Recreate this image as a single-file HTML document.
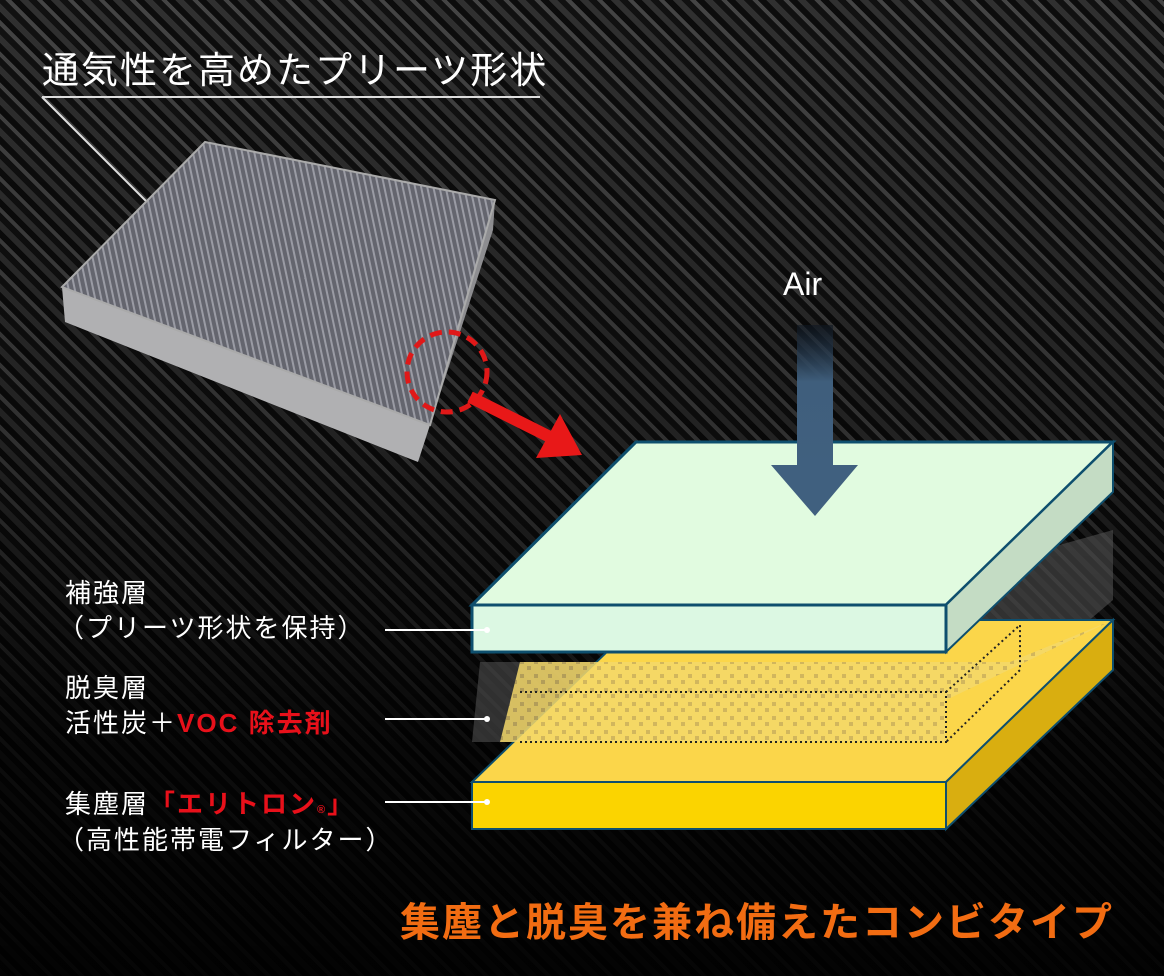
<!DOCTYPE html>
<html><head><meta charset="utf-8"><style>
html,body{margin:0;padding:0}
body{width:1164px;height:976px;overflow:hidden;position:relative;background:#0b0b0b;font-family:"Liberation Sans","Noto Sans CJK JP",sans-serif}
.bg{position:absolute;inset:0;
background:
linear-gradient(180deg,rgba(0,0,0,0) 0%,rgba(0,0,0,.3) 45%,rgba(0,0,0,.8) 75%,rgba(0,0,0,.92) 100%),
repeating-linear-gradient(45deg,#303030 0 6px,#111 6px 12px,#444 12px 16px,#0c0c0c 16px 22px),
#151515;}
.t{position:absolute;color:#fff;white-space:nowrap}
.l{font-size:26px;letter-spacing:2px}
</style></head><body>
<div class="bg"></div>
<svg width="1164" height="976" style="position:absolute;left:0;top:0">
<defs>
<pattern id="pl" width="6" height="6" patternUnits="userSpaceOnUse" patternTransform="rotate(-12)">
<rect width="6" height="6" fill="#64656e"/><rect width="2" height="6" fill="#9a9ba4"/></pattern>
<pattern id="ck" width="14" height="14" patternUnits="userSpaceOnUse">
<rect width="14" height="14" fill="#f4d86a"/><rect x="2" y="2" width="4" height="4" fill="#c9b060"/><rect x="9" y="8" width="4" height="4" fill="#c9b060"/></pattern>
<linearGradient id="ag" x1="0" y1="0" x2="0" y2="1"><stop offset="0" stop-color="#0e1620" stop-opacity="0.6"/><stop offset="0.4" stop-color="#3f5e7c"/><stop offset="1" stop-color="#40607f"/></linearGradient>
</defs>
<line x1="42" y1="97" x2="540" y2="97" stroke="#ddd" stroke-width="2"/>
<line x1="42" y1="97" x2="160" y2="215" stroke="#ddd" stroke-width="2"/>
<polygon points="62,287 430,425 418,462 65,322" fill="#b0b0b2"/>
<polygon points="430,425 495,200 493,230 418,462" fill="#8d8d90"/>
<polygon points="205,142 495,200 430,425 62,287" fill="url(#pl)" stroke="#aaa" stroke-width="2"/>
<circle cx="447" cy="372" r="40" fill="none" stroke="#e01818" stroke-width="5" stroke-dasharray="12 7"/>
<line x1="470" y1="397" x2="550" y2="437" stroke="#e81818" stroke-width="12"/>
<polygon points="582,455 536,458 560,414" fill="#e81818"/>
<polygon points="480,662 640,662 1113,530 1113,600 946,742 472,742" fill="#555" opacity="0.55"/>
<polygon points="640,620 1113,620 946,782 472,782" fill="#fbd64a" stroke="#0e4f6e" stroke-width="2"/>
<polygon points="946,782 1113,620 1113,670 946,829" fill="#d9ae10" stroke="#0e4f6e" stroke-width="2"/>
<rect x="472" y="782" width="474" height="47" fill="#fbd400" stroke="#0e4f6e" stroke-width="2"/>
<polygon points="520,662 1010,662 1113,620 946,700 946,742 500,742" fill="url(#ck)" opacity="0.85"/>
<polyline points="520,692 946,692 946,742 520,742" fill="none" stroke="#222" stroke-width="2" stroke-dasharray="2 3"/>
<polyline points="946,692 1020,625 1020,670 946,742" fill="none" stroke="#222" stroke-width="2" stroke-dasharray="2 3"/>
<polygon points="636,442 1113,442 946,605 472,605" fill="#e1fbe0" stroke="#0e4f6e" stroke-width="3"/>
<polygon points="946,605 1113,442 1113,492 946,652" fill="#c4dcc4" stroke="#0e4f6e" stroke-width="2"/>
<rect x="472" y="605" width="474" height="47" fill="#dcf8e3" stroke="#0e4f6e" stroke-width="3"/>
<rect x="797" y="325" width="36" height="142" fill="url(#ag)"/>
<polygon points="771,465 858,465 815,516" fill="#40607f"/>
<line x1="385" y1="630" x2="487" y2="630" stroke="#fff" stroke-width="2"/><circle cx="487" cy="630" r="3" fill="#fff"/>
<line x1="385" y1="719" x2="487" y2="719" stroke="#fff" stroke-width="2"/><circle cx="487" cy="719" r="3" fill="#fff"/>
<line x1="385" y1="802" x2="487" y2="802" stroke="#fff" stroke-width="2"/><circle cx="487" cy="802" r="3" fill="#fff"/>
</svg>
<div class="t" style="left:42px;top:40px;font-size:37px;letter-spacing:2px">通気性を高めたプリーツ形状</div>
<div class="t" style="left:783px;top:266px;font-size:32px">Air</div>
<div class="t l" style="left:65px;top:573px">補強層</div>
<div class="t l" style="left:58px;top:608px">（プリーツ形状を保持）</div>
<div class="t l" style="left:65px;top:668px">脱臭層</div>
<div class="t l" style="left:65px;top:703px">活性炭＋<span style="color:#e8101a;font-weight:bold">VOC 除去剤</span></div>
<div class="t l" style="left:65px;top:784px">集塵層<span style="color:#e8101a;font-weight:bold">「エリトロン<span style="font-size:11px">®</span>」</span></div>
<div class="t l" style="left:58px;top:820px">（高性能帯電フィルター）</div>
<div class="t" style="left:400px;top:890px;font-size:40px;letter-spacing:2px;font-weight:bold;color:#f26c12">集塵と脱臭を兼ね備えたコンビタイプ</div>
</body></html>
